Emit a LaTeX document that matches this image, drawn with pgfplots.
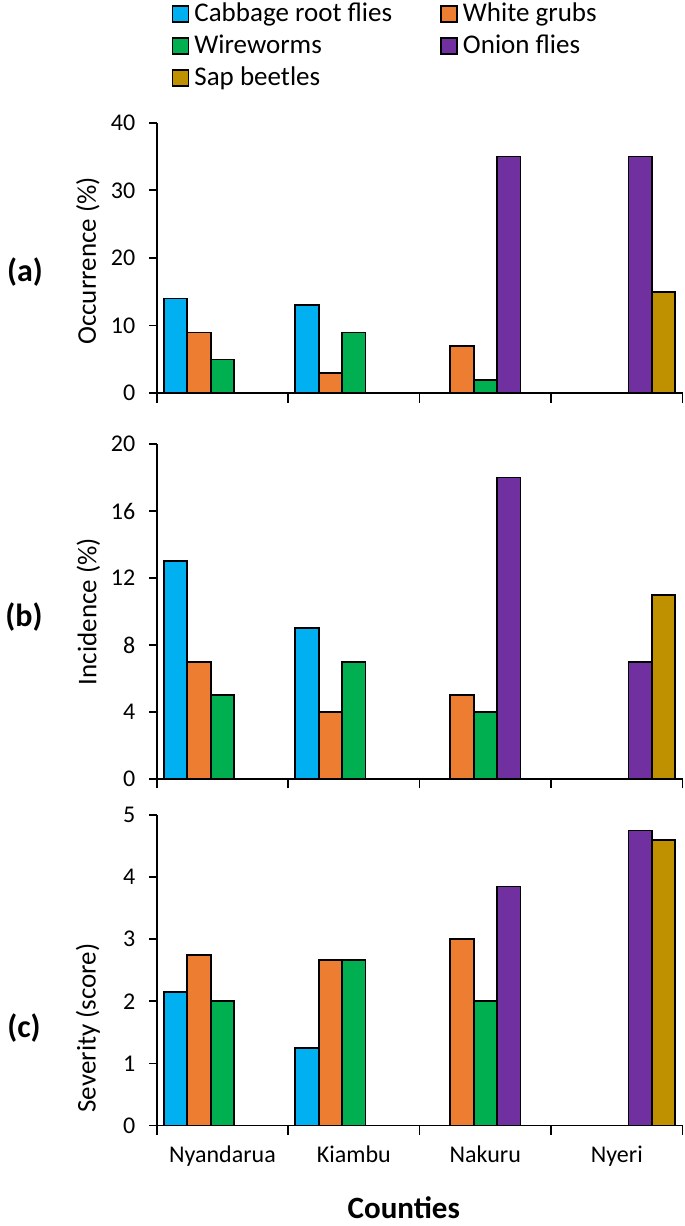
\documentclass[border=0pt]{standalone}
\usepackage{fontspec}
\setmainfont{Carlito}
\usepackage{pgfplots}
\pgfplotsset{compat=1.18}
\definecolor{cblue}{HTML}{00B0F0}
\definecolor{corange}{HTML}{ED7D31}
\definecolor{cgreen}{HTML}{00B050}
\definecolor{cpurple}{HTML}{7030A0}
\definecolor{cgold}{HTML}{BF9000}
\pgfplotsset{
  /pgfplots/ybar legend/.style={/pgfplots/legend image code/.code={%
    \draw[##1, draw=black, line width=1.8pt] (0pt,-6.5pt) rectangle (16pt,9.5pt);}},
  panel/.style={
    scale only axis, width=525.8pt,
    xmin=-0.5, xmax=3.5, ymin=0,
    axis lines=left, axis line style={-, line width=1.7pt},
    tick align=outside,
    xtick={-0.5,0.5,1.5,2.5,3.5},
    x tick label as interval,
    xticklabels={},
    ytick style={line width=1.7pt, black, /pgfplots/major tick length=7.3pt},
    xtick style={line width=1.7pt, black, /pgfplots/major tick length=9.3pt},
    ticklabel style={font=\fontsize{24}{28}\selectfont},
    yticklabel style={anchor=east, inner sep=0pt, xshift=-17pt},
    xticklabel style={anchor=north, inner sep=0pt, yshift=-16pt},
    /pgf/number format/assume math mode=true,
    ylabel style={font=\fontsize{27}{32}\selectfont, at={(axis description cs:-0.131,0.5)}, anchor=center},
    ybar, bar width=0.178,
    clip=false,
  },
  s1/.style={fill=cblue, draw=black, line width=1.8pt, bar shift=-0.356},
  s2/.style={fill=corange, draw=black, line width=1.8pt, bar shift=-0.178},
  s3/.style={fill=cgreen, draw=black, line width=1.8pt, bar shift=0},
  s4/.style={fill=cpurple, draw=black, line width=1.8pt, bar shift=0.178},
  s5/.style={fill=cgold, draw=black, line width=1.8pt, bar shift=0.356},
}
\begin{document}
\begin{tikzpicture}
\path[use as bounding box] (0,0) rectangle (685pt,1226pt);
% (a) Occurrence
\begin{axis}[panel, at={(156.7pt,832.7pt)}, anchor=south west,
  height=270.6pt, ymax=40, ytick={0,10,20,30,40},
  ylabel={Occurrence (\%)},
  ylabel style={at={(axis description cs:-0.131,0.489)}},
  legend columns=2, legend cell align=left,
  legend style={at={(axis description cs:0.028,1.447)}, anchor=north west,
    draw=none, fill=none, inner sep=0pt,
    font=\fontsize{27}{32}\selectfont,
    nodes={inner sep=0pt, text height=20pt, text depth=7pt},
    row sep=5pt,
    /tikz/every odd column/.append style={column sep=5pt},
    /tikz/every even column/.append style={column sep=48pt}},
]
\addplot[s1] coordinates {(0,14) (1,13)};
\addplot[s2] coordinates {(0,9) (1,3) (2,7)};
\addplot[s3] coordinates {(0,5) (1,9) (2,2)};
\addplot[s4] coordinates {(2,35) (3,35)};
\addplot[s5] coordinates {(3,15)};
\legend{Cabbage root flies, White grubs, Wireworms, Onion flies, Sap beetles}
\end{axis}
% (b) Incidence
\begin{axis}[panel, at={(156.7pt,447pt)}, anchor=south west,
  height=335pt, ymax=20, ytick={0,4,8,12,16,20},
  ylabel={Incidence (\%)},
  ylabel style={at={(axis description cs:-0.130,0.5)}},
]
\addplot[s1] coordinates {(0,13) (1,9)};
\addplot[s2] coordinates {(0,7) (1,4) (2,5)};
\addplot[s3] coordinates {(0,5) (1,7) (2,4)};
\addplot[s4] coordinates {(2,18) (3,7)};
\addplot[s5] coordinates {(3,11)};
\end{axis}
% (c) Severity
\begin{axis}[panel, at={(156.7pt,100.5pt)}, anchor=south west,
  height=310.5pt, ymax=5, ytick={0,1,2,3,4,5},
  ylabel={Severity (score)},
  ylabel style={at={(axis description cs:-0.131,0.314)}},
  xticklabels={Nyandarua,Kiambu,Nakuru,Nyeri},
  xlabel={Counties},
  xlabel style={font=\bfseries\fontsize{31}{37}\selectfont, at={(axis description cs:0.470,-0.266)}, anchor=center},
]
\addplot[s1] coordinates {(0,2.15) (1,1.25)};
\addplot[s2] coordinates {(0,2.75) (1,2.67) (2,3.0)};
\addplot[s3] coordinates {(0,2.0) (1,2.67) (2,2.0)};
\addplot[s4] coordinates {(2,3.85) (3,4.75)};
\addplot[s5] coordinates {(3,4.6)};
\end{axis}
\node[font=\bfseries\fontsize{32}{38}\selectfont] at (25pt,954.3pt) {(a)};
\node[font=\bfseries\fontsize{32}{38}\selectfont] at (24pt,609.3pt) {(b)};
\node[font=\bfseries\fontsize{32}{38}\selectfont] at (24pt,198pt) {(c)};
\end{tikzpicture}
\end{document}
